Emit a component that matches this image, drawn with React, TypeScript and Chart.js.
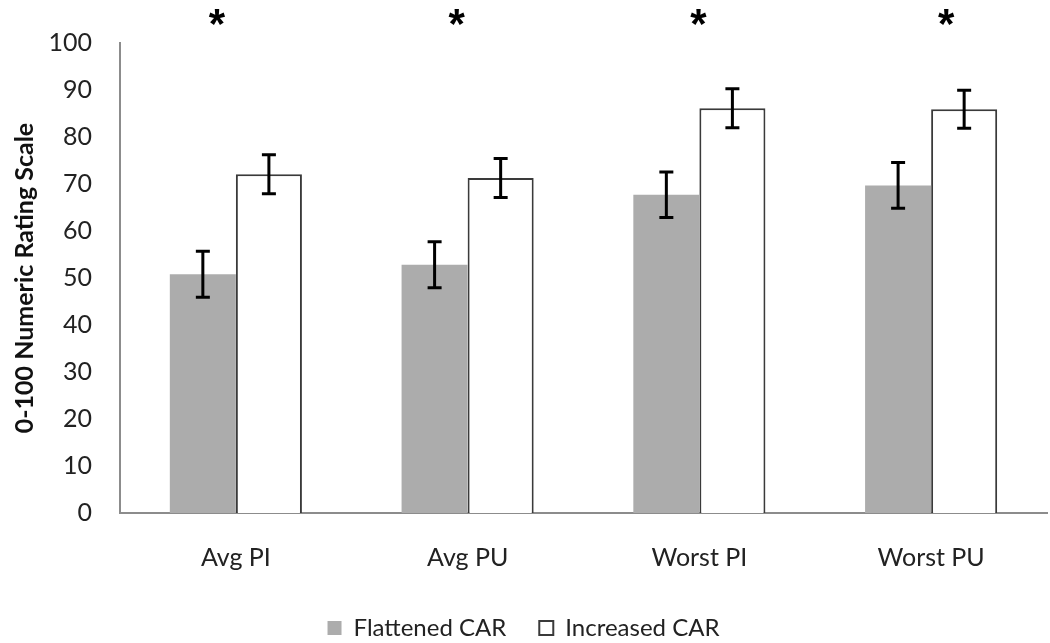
import React, { useEffect, useRef } from "react";
import { Chart, registerables } from "chart.js";

Chart.register(...registerables);

const categories = ["Avg PI", "Avg PU", "Worst PI", "Worst PU"];
const flattenedValues = [50.8, 52.8, 67.7, 69.7];
const flattenedErrors = [4.9, 4.9, 4.85, 4.85];
const increasedValues = [72.1, 71.3, 86.1, 85.9];
const increasedErrors = [4.15, 4.15, 4.15, 4.05];
const significance = ["*", "*", "*", "*"];
const yTicks = [0, 10, 20, 30, 40, 50, 60, 70, 80, 90, 100];

const FONT = "Lato, 'Open Sans', sans-serif";

const errorBarPlugin = {
  id: "errorBars",
  afterDatasetsDraw(chart: any) {
    const ctx = chart.ctx;
    const y = chart.scales.y;
    const errs = [flattenedErrors, increasedErrors];
    ctx.save();
    ctx.strokeStyle = "#000000";
    ctx.lineWidth = 3;
    chart.data.datasets.forEach((ds: any, di: number) => {
      const meta = chart.getDatasetMeta(di);
      meta.data.forEach((bar: any, i: number) => {
        const v = ds.data[i];
        const e = errs[di][i];
        const x = bar.x;
        const top = y.getPixelForValue(v + e);
        const bot = y.getPixelForValue(v - e);
        ctx.beginPath();
        ctx.moveTo(x, top);
        ctx.lineTo(x, bot);
        ctx.moveTo(x - 7, top);
        ctx.lineTo(x + 7, top);
        ctx.moveTo(x - 7, bot);
        ctx.lineTo(x + 7, bot);
        ctx.stroke();
      });
    });
    ctx.restore();
  },
};

const ASTERISK_DX = [-19, -11, -1, 15];

const asteriskPlugin = {
  id: "asterisks",
  afterDraw(chart: any) {
    const ctx = chart.ctx;
    const x = chart.scales.x;
    ctx.save();
    ctx.fillStyle = "#000000";
    ctx.font = "bold 42px 'Liberation Sans', Arial, sans-serif";
    ctx.textAlign = "center";
    ctx.textBaseline = "alphabetic";
    significance.forEach((s, i) => {
      const px = x.getPixelForValue(i) + ASTERISK_DX[i];
      ctx.fillText(s, px, 38);
    });
    ctx.restore();
  },
};

export default function App() {
  const ref = useRef<HTMLCanvasElement | null>(null);
  useEffect(() => {
    document.body.style.margin = "0";
    const chart = new Chart(ref.current as HTMLCanvasElement, {
      type: "bar",
      data: {
        labels: categories,
        datasets: [
          {
            label: "Flattened CAR",
            data: flattenedValues,
            backgroundColor: "#acacac",
            borderColor: "#acacac",
            borderWidth: 0,
            categoryPercentage: 0.57,
            barPercentage: 1.0,
          },
          {
            label: "Increased CAR",
            data: increasedValues,
            backgroundColor: "#ffffff",
            borderColor: "#3a3a3a",
            borderWidth: 2,
            categoryPercentage: 0.57,
            barPercentage: 1.0,
          },
        ],
      },
      options: {
        animation: false,
        responsive: false,
        maintainAspectRatio: false,
        layout: { padding: { top: 38, left: 0, right: 3, bottom: -7 } },
        plugins: {
          tooltip: { enabled: false },
          legend: {
            position: "bottom",
            labels: {
              color: "#222222",
              font: { family: FONT, size: 24 },
              boxWidth: 14,
              boxHeight: 14,
              padding: 33,
            },
          },
        },
        scales: {
          x: {
            afterFit(scale: any) {
              scale.height = scale.height - 20;
            },
            grid: { display: false, drawTicks: false },
            border: { display: true, color: "#8c8c8c", width: 2 },
            ticks: {
              color: "#222222",
              font: { family: FONT, size: 25 },
              padding: 30,
            },
          },
          y: {
            min: 0,
            max: 100,
            afterBuildTicks(scale: any) {
              scale.ticks = yTicks.map((v) => ({ value: v }));
            },
            afterFit(scale: any) {
              scale.width = 120;
            },
            grid: { display: false, drawTicks: false },
            border: { display: true, color: "#8c8c8c", width: 2 },
            ticks: {
              color: "#222222",
              font: { family: FONT, size: 25 },
              padding: 28,
            },
            title: {
              display: true,
              text: "0-100 Numeric Rating Scale",
              color: "#111111",
              font: { family: FONT, size: 25, weight: "bold" },
              padding: { top: 10, bottom: 0 },
            },
          },
        },
      },
      plugins: [errorBarPlugin, asteriskPlugin],
    });
    return () => chart.destroy();
  }, []);
  return (
    <div style={{ width: 1050, height: 643, background: "#ffffff" }}>
      <canvas ref={ref} width={1050} height={643} />
    </div>
  );
}
